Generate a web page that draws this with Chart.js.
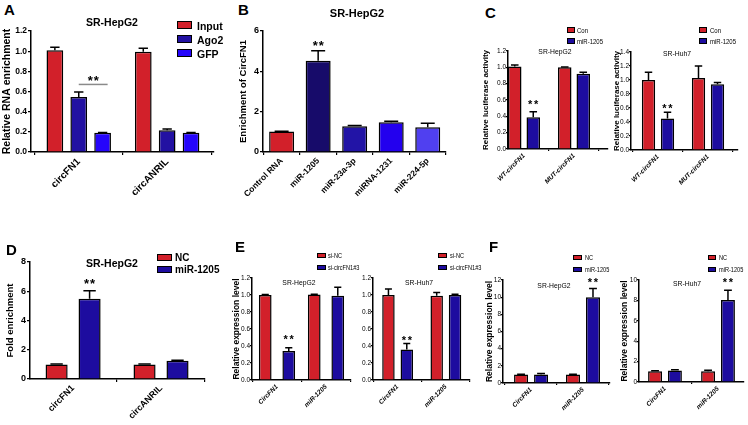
<!DOCTYPE html>
<html>
<head>
<meta charset="utf-8">
<script src="https://cdn.jsdelivr.net/npm/chart.js@4.4.0/dist/chart.umd.min.js"></script>
<style>
  body { margin: 0; width: 748px; height: 425px; background: #fff; position: relative; overflow: hidden; }
  canvas { position: absolute; }
  .t { position: absolute; white-space: nowrap; line-height: 1; color: #000; }
  .box { position: absolute; border: 1px solid #000; box-sizing: border-box; }
</style>
</head>
<body>
<script>
// ---- data ----
// A
const aCats = ['circFN1', 'circANRIL'];
const aNames = ['Input', 'Ago2', 'GFP'];
const aInput = [1.01, 0.995], aInputErr = [0.03, 0.035];
const aAgo2 = [0.545, 0.215], aAgo2Err = [0.05, 0.012];
const aGfp = [0.19, 0.19], aGfpErr = [0.004, 0.004];

// B
const bCats = ['Control RNA', 'miR-1205', 'miR-23a-3p', 'miRNA-1231', 'miR-224-5p'];
const bVals = [1.02, 4.52, 1.28, 1.48, 1.23];
const bErr = [0.01, 0.5, 0.04, 0.05, 0.2];
const bStars = ['', '**', '', '', ''];

// C
const cCats = ['WT-circFN1', 'MUT-circFN1'];
const cNames = ['Con', 'miR-1205'];
const cHepCon = [1.01, 1.0], cHepConErr = [0.02, 0.005];
const cHepMir = [0.39, 0.92], cHepMirErr = [0.065, 0.02];
const cHuhCon = [1.0, 1.03], cHuhConErr = [0.11, 0.17];
const cHuhMir = [0.45, 0.94], cHuhMirErr = [0.09, 0.025];

// D
const dCats = ['circFN1', 'circANRIL'];
const dNames = ['NC', 'miR-1205'];
const dNC = [1.0, 1.0], dNCErr = [0.02, 0.02];
const dMir = [5.48, 1.25], dMirErr = [0.55, 0.04];

// E
const eCats = ['CircFN1', 'miR-1205'];
const eNames = ['si-NC', 'si-circFN1#3'];
const eHepNC = [1.0, 1.005], eHepNCErr = [0.005, 0.005];
const eHepSi = [0.34, 0.99], eHepSiErr = [0.04, 0.1];
const eHuhNC = [1.0, 0.99], eHuhNCErr = [0.07, 0.04];
const eHuhSi = [0.36, 1.0], eHuhSiErr = [0.07, 0.01];

// F
const fCats = ['CircFN1', 'miR-1205'];
const fNames = ['NC', 'miR-1205'];
const fHepNC = [1.0, 1.0], fHepNCErr = [0.02, 0.02];
const fHepMir = [1.0, 10.0], fHepMirErr = [0.1, 1.0];
const fHuhNC = [1.05, 1.05], fHuhNCErr = [0.05, 0.1];
const fHuhMir = [1.12, 8.05], fHuhMirErr = [0.08, 0.95];

const red = '#d2202a';
const navy = '#1d0c9f';
const aColors = [red, '#2211a2', '#2505fb'];
const bColors = [red, '#170b6a', '#2214a6', '#2300ee', '#5040f0'];

const sans = "'Liberation Sans', Arial, sans-serif";
const narrow = "'Liberation Sans Narrow', 'Arial Narrow', 'Liberation Sans', sans-serif";

// error bars + stars
const errorBars = {
  id: 'errorBars',
  afterDatasetsDraw(chart, args, opts) {
    const ctx = chart.ctx, y = chart.scales.y;
    chart.data.datasets.forEach((ds, di) => {
      chart.getDatasetMeta(di).data.forEach((bar, i) => {
        const e = ds.err ? ds.err[i] : 0;
        const top = y.getPixelForValue(ds.data[i] + (e || 0));
        if (e) {
          const hw = bar.width * 0.28;
          ctx.save();
          ctx.strokeStyle = '#000';
          ctx.lineWidth = 1.5;
          ctx.beginPath();
          ctx.moveTo(bar.x, bar.y);
          ctx.lineTo(bar.x, top);
          ctx.moveTo(bar.x - hw, top);
          ctx.lineTo(bar.x + hw, top);
          ctx.stroke();
          ctx.restore();
        }
        if (ds.stars && ds.stars[i]) {
          drawStars(ctx, bar.x, top - opts.gap, opts);
        }
      });
    });
  }
};

function drawStars(ctx, x, cy, opts) {
  ctx.save();
  ctx.fillStyle = '#000';
  ctx.font = 'bold ' + opts.size + 'px ' + sans;
  ctx.textAlign = 'center';
  ctx.textBaseline = 'alphabetic';
  const by = cy + opts.size * 0.57;
  ctx.fillText('*', x - opts.sep / 2, by);
  ctx.fillText('*', x + opts.sep / 2, by);
  ctx.restore();
}

// significance line (panel A)
const bracket = {
  id: 'bracket',
  afterDatasetsDraw(chart, args, opts) {
    if (opts.value === undefined) return;
    const a = chart.getDatasetMeta(opts.from).data[opts.cat];
    const b = chart.getDatasetMeta(opts.to).data[opts.cat];
    const yy = chart.scales.y.getPixelForValue(opts.value);
    const ctx = chart.ctx;
    ctx.save();
    ctx.strokeStyle = '#8a8a8a';
    ctx.lineWidth = 1.5;
    ctx.beginPath();
    ctx.moveTo(a.x, yy);
    ctx.lineTo(b.x + b.width * 0.3, yy);
    ctx.stroke();
    ctx.restore();
    drawStars(ctx, (a.x + b.x + b.width * 0.3) / 2, yy - opts.gap, opts);
  }
};

function panel(o) {
  const x0 = o.yTitle ? Math.round(o.yTitleX - o.yTitleSize * 0.6) : o.L - 26;
  const y0 = o.T - 10;
  const w = o.R - x0 + 8;
  const h = o.B - y0 + 60;
  const cv = document.createElement('canvas');
  cv.width = w;
  cv.height = h;
  cv.style.left = x0 + 'px';
  cv.style.top = y0 + 'px';
  document.body.appendChild(cv);
  const axisGrid = { drawOnChartArea: false, tickLength: o.tick || 3, color: '#000', lineWidth: 1.2 };
  const axisBorder = { color: '#000', width: 1.5 };
  new Chart(cv, {
    type: 'bar',
    data: {
      labels: o.cats.map((c, i) => i + 1),
      datasets: o.sets.map(s => ({
        label: s.label, data: s.data, err: s.err, stars: s.stars,
        backgroundColor: s.color, borderColor: '#000', borderWidth: 1.5,
        categoryPercentage: o.catPct, barPercentage: o.barPct
      }))
    },
    options: {
      responsive: false,
      animation: false,
      events: [],
      layout: { padding: { left: 0, top: o.T - y0, right: x0 + w - o.R, bottom: 0 } },
      plugins: {
        legend: { display: false },
        tooltip: { enabled: false },
        errorBars: o.stars,
        bracket: o.bracket || {}
      },
      scales: {
        x: {
          type: 'linear', min: o.xMin, max: o.xMax, offset: false,
          afterBuildTicks: s => { s.ticks = o.cats.map((c, i) => ({ value: i + 1 })); },
          afterFit: s => { s.height = y0 + h - o.B; s.paddingLeft = 0; s.paddingRight = 0; },
          grid: axisGrid, border: axisBorder,
          ticks: {
            autoSkip: false, minRotation: 45, maxRotation: 45, padding: 1, color: '#000',
            font: o.xFont, callback: v => o.cats[v - 1]
          }
        },
        y: {
          min: 0, max: o.yMax,
          afterFit: s => { s.width = o.L - x0; s.paddingTop = 0; s.paddingBottom = 0; },
          grid: axisGrid, border: axisBorder,
          ticks: { stepSize: o.yStep, padding: o.tickPad === undefined ? 1 : o.tickPad, color: '#000', font: o.yFont, callback: v => v.toFixed(o.dec) },
          title: o.yTitle ? {
            display: true, text: o.yTitle, padding: 0, color: '#000',
            font: { family: sans, size: o.yTitleSize, weight: 'bold' }
          } : { display: false }
        }
      }
    },
    plugins: [errorBars, bracket]
  });
}

function text(str, x, cy, size, family, weight, align, squeeze) {
  const d = document.createElement('div');
  d.className = 't';
  d.textContent = str;
  d.style.font = (weight || 'normal') + ' ' + size + 'px ' + family;
  d.style.top = (cy - size / 2) + 'px';
  d.style.left = x + 'px';
  const sx = squeeze ? ' scaleX(' + squeeze + ')' : '';
  if (align === 'center') { d.style.transform = 'translateX(-50%)' + sx; d.style.transformOrigin = 'center'; }
  else { d.style.transform = sx; d.style.transformOrigin = 'left center'; }
  document.body.appendChild(d);
}

function legend(x, rows, bw, bh, names, colors, tx, size, family, weight, squeeze) {
  names.forEach((n, i) => {
    const b = document.createElement('div');
    b.className = 'box';
    b.style.left = x + 'px';
    b.style.top = (rows[i] - bh / 2) + 'px';
    b.style.width = bw + 'px';
    b.style.height = bh + 'px';
    b.style.background = colors[i];
    document.body.appendChild(b);
    text(n, tx, rows[i], size, family, weight, 'left', squeeze);
  });
}

const bigTick = { family: sans, size: 8.5, weight: 'bold' };
const smallTick = { family: narrow, size: 6.5 };
const smallX = { family: narrow, size: 6.5, weight: 'bold', style: 'italic' };
const bigStars = { gap: 8, size: 13, sep: 6 };

// ---- A ----
panel({
  L: 31, T: 31, R: 214, B: 152, xMin: 0.46, xMax: 2.53, yMax: 1.2, yStep: 0.2, dec: 1,
  cats: aCats, catPct: 0.81, barPct: 0.7,
  sets: [
    { label: aNames[0], data: aInput, err: aInputErr, color: aColors[0] },
    { label: aNames[1], data: aAgo2, err: aAgo2Err, color: aColors[1] },
    { label: aNames[2], data: aGfp, err: aGfpErr, color: aColors[2] }
  ],
  yTitle: 'Relative RNA enrichment', yTitleX: 7, yTitleSize: 10.5,
  yFont: bigTick, xFont: { family: sans, size: 10, weight: 'bold' },
  stars: bigStars,
  bracket: { cat: 0, from: 1, to: 2, value: 0.67, gap: 7, size: 13, sep: 6 }
});

// ---- B ----
panel({
  L: 263, T: 31, R: 446, B: 152, xMin: 0.49, xMax: 5.5, yMax: 6, yStep: 2, dec: 0,
  cats: bCats, catPct: 0.9, barPct: 0.76,
  sets: [{ label: 'CircFN1', data: bVals, err: bErr, stars: bStars, color: bColors }],
  yTitle: 'Enrichment of CircFN1', yTitleX: 244, yTitleSize: 9.5,
  yFont: { family: sans, size: 9, weight: 'bold' }, xFont: { family: sans, size: 8.5, weight: 'bold' },
  stars: { gap: 8, size: 13, sep: 6 }
});

// ---- C ----
const smallOpts = { tick: 2, tickPad: 0, yFont: smallTick, xFont: smallX };
panel(Object.assign({
  L: 508, T: 51, R: 608, B: 149, xMin: 0.68, xMax: 2.68, yMax: 1.2, yStep: 0.2, dec: 1,
  cats: cCats, catPct: 0.74, barPct: 0.73,
  sets: [
    { label: cNames[0], data: cHepCon, err: cHepConErr, color: red },
    { label: cNames[1], data: cHepMir, err: cHepMirErr, color: navy, stars: ['**', ''] }
  ],
  yTitle: 'Relative luciferase activity', yTitleX: 486, yTitleSize: 8,
  stars: { gap: 10, size: 11, sep: 6 }
}, smallOpts));
panel(Object.assign({
  L: 631, T: 52, R: 738, B: 150, xMin: 0.46, xMax: 2.6, yMax: 1.4, yStep: 0.2, dec: 1,
  cats: cCats, catPct: 0.76, barPct: 0.7,
  sets: [
    { label: cNames[0], data: cHuhCon, err: cHuhConErr, color: red },
    { label: cNames[1], data: cHuhMir, err: cHuhMirErr, color: navy, stars: ['**', ''] }
  ],
  yTitle: 'Relative luciferase activity', yTitleX: 617, yTitleSize: 8,
  stars: { gap: 6, size: 11, sep: 6 }
}, smallOpts));

// ---- D ----
panel({
  L: 30, T: 262, R: 205, B: 379, xMin: 0.51, xMax: 2.5, yMax: 8, yStep: 2, dec: 0,
  cats: dCats, catPct: 0.75, barPct: 0.67,
  sets: [
    { label: dNames[0], data: dNC, err: dNCErr, color: red },
    { label: dNames[1], data: dMir, err: dMirErr, color: navy, stars: ['**', ''] }
  ],
  yTitle: 'Fold enrichment', yTitleX: 11, yTitleSize: 9.5,
  yFont: { family: sans, size: 9, weight: 'bold' }, xFont: { family: sans, size: 9, weight: 'bold' },
  stars: { gap: 10, size: 13, sep: 6 }
});

// ---- E ----
panel(Object.assign({
  L: 252, T: 278, R: 351, B: 380, xMin: 0.49, xMax: 2.51, yMax: 1.2, yStep: 0.2, dec: 1,
  cats: eCats, catPct: 0.96, barPct: 0.54,
  sets: [
    { label: eNames[0], data: eHepNC, err: eHepNCErr, color: red },
    { label: eNames[1], data: eHepSi, err: eHepSiErr, color: navy, stars: ['**', ''] }
  ],
  yTitle: 'Relative expression level', yTitleX: 237, yTitleSize: 8.5,
  stars: { gap: 11, size: 11, sep: 6 }
}, smallOpts));
panel(Object.assign({
  L: 373, T: 278, R: 470, B: 380, xMin: 0.49, xMax: 2.5, yMax: 1.2, yStep: 0.2, dec: 1,
  cats: eCats, catPct: 0.76, barPct: 0.68,
  sets: [
    { label: eNames[0], data: eHuhNC, err: eHuhNCErr, color: red },
    { label: eNames[1], data: eHuhSi, err: eHuhSiErr, color: navy, stars: ['**', ''] }
  ],
  stars: { gap: 6, size: 11, sep: 6 }
}, smallOpts));

// ---- F ----
panel(Object.assign({
  L: 503, T: 280, R: 610, B: 383, xMin: 0.46, xMax: 2.52, yMax: 12, yStep: 2, dec: 0,
  cats: fCats, catPct: 0.77, barPct: 0.7,
  sets: [
    { label: fNames[0], data: fHepNC, err: fHepNCErr, color: red },
    { label: fNames[1], data: fHepMir, err: fHepMirErr, color: navy, stars: ['', '**'] }
  ],
  yTitle: 'Relative expression level', yTitleX: 490, yTitleSize: 8.5,
  stars: { gap: 9, size: 11, sep: 6 }
}, smallOpts));
panel(Object.assign({
  L: 639, T: 280, R: 744, B: 382, xMin: 0.51, xMax: 2.49, yMax: 10, yStep: 2, dec: 0,
  cats: fCats, catPct: 0.75, barPct: 0.7,
  sets: [
    { label: fNames[0], data: fHuhNC, err: fHuhNCErr, color: red },
    { label: fNames[1], data: fHuhMir, err: fHuhMirErr, color: navy, stars: ['', '**'] }
  ],
  yTitle: 'Relative expression level', yTitleX: 625, yTitleSize: 8.5,
  stars: { gap: 10, size: 11, sep: 6 }
}, smallOpts));

// ---- panel letters, titles, legends ----
[['A', 4, 8], ['B', 238, 8], ['C', 485, 11], ['D', 6, 248], ['E', 235, 245], ['F', 489, 245]]
  .forEach(([s, x, y]) => text(s, x, y, 15, sans, 'bold'));

text('SR-HepG2', 112, 21, 10.5, sans, 'bold', 'center');
text('SR-HepG2', 357, 12, 11, sans, 'bold', 'center');
text('SR-HepG2', 555, 51, 8, narrow, 'normal', 'center', 0.85);
text('SR-Huh7', 677, 53, 8, narrow, 'normal', 'center', 0.85);
text('SR-HepG2', 112, 262, 10.5, sans, 'bold', 'center');
text('SR-HepG2', 299, 282, 8, narrow, 'normal', 'center', 0.85);
text('SR-Huh7', 419, 282, 8, narrow, 'normal', 'center', 0.85);
text('SR-HepG2', 554, 285, 8, narrow, 'normal', 'center', 0.85);
text('SR-Huh7', 687, 283, 8, narrow, 'normal', 'center', 0.85);

legend(177, [25, 39, 53], 15, 8, aNames, aColors, 197, 10.5, sans, 'bold');
legend(157, [257, 269], 15, 7, dNames, [red, navy], 175, 10, sans, 'bold');
legend(567, [30, 41], 8, 6, cNames, [red, navy], 577, 7.5, narrow, 'normal', 0.8);
legend(699, [30, 41], 8, 6, cNames, [red, navy], 710, 7.5, narrow, 'normal', 0.8);
legend(317, [255, 267], 9, 5, eNames, [red, navy], 328, 7, narrow, 'normal', 0.8);
legend(438, [255, 267], 9, 5, eNames, [red, navy], 450, 7, narrow, 'normal', 0.8);
legend(573, [257, 269], 9, 5, fNames, [red, navy], 585, 7, narrow, 'normal', 0.8);
legend(708, [257, 269], 8, 5, fNames, [red, navy], 719, 7, narrow, 'normal', 0.8);
</script>
</body>
</html>
